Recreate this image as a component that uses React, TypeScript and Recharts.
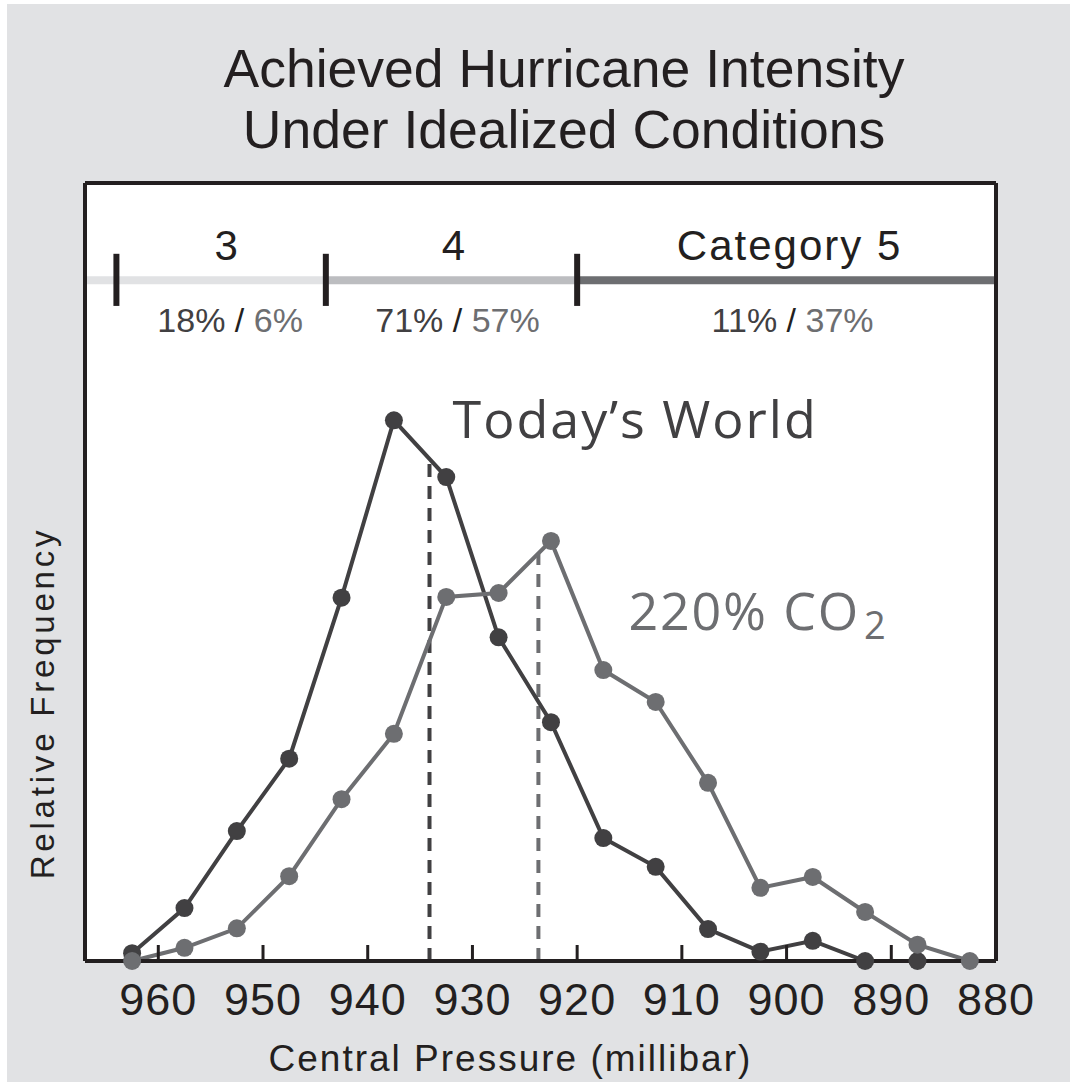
import { LineChart, Line, XAxis, YAxis, CartesianGrid, ReferenceLine, ReferenceDot } from "recharts";

// central pressure bins (mb), values read as relative frequency (plot top = 100)
const pressureBins = [962.5, 957.5, 952.5, 947.5, 942.5, 937.5, 932.5, 927.5, 922.5, 917.5, 912.5, 907.5, 902.5, 897.5, 892.5, 887.5, 882.5];
const todayFreq = [1.0, 6.8, 16.7, 26.0, 46.7, 69.5, 62.2, 41.6, 30.7, 15.8, 12.1, 4.1, 1.2, 2.6, 0, 0, null];
const co2Freq = [0, 1.7, 4.2, 10.9, 20.8, 29.2, 46.8, 47.3, 54.0, 37.4, 33.3, 22.9, 9.4, 10.8, 6.3, 2.1, 0];

// mean pressure of each run and where its dashed marker meets the curve
const todayMean = 934.1;
const todayMeanTop = 64.5;
const co2Mean = 923.7;
const co2MeanTop = 52.4;

const bottomTicks = [960, 950, 940, 930, 920, 910, 900, 890, 880];
const topTicks = [960, 950, 940, 930, 920, 910, 900, 890];

// Saffir-Simpson bands shown in the strip at the top of the plot
const categoryNames = ["3", "4", "Category 5"];
const categoryEdges = [964, 944, 920, 880];
const todayShare = ["18%", "71%", "11%"];
const co2Share = ["6%", "57%", "37%"];
const bandColors = ["#e1e2e4", "#bcbdc0", "#6d6e71"];

const X_MIN = 880;
const X_MAX = 967;
const BAND_Y = 87.5;

const DARK = "#414042";
const GRAY = "#6d6e71";
const INK = "#231f20";
const SANS = "'Liberation Sans', Arial, Helvetica, sans-serif";
const HUMANIST = "'Open Sans', 'Noto Sans', sans-serif";

const todayData = pressureBins.map((p, i) => ({ p, v: todayFreq[i] }));
const co2Data = pressureBins.map((p, i) => ({ p, v: co2Freq[i] }));

function BottomTick(props: any) {
  const { x, y, payload } = props;
  return (
    <g>
      <line x1={x} y1={y} x2={x} y2={y - 16} stroke={INK} strokeWidth={3} />
      <text x={x} y={y + 54} textAnchor="middle" fontSize={45} fill={INK} fontFamily={SANS} letterSpacing={1}>
        {payload.value}
      </text>
    </g>
  );
}

function TopTick(props: any) {
  const { x, y } = props;
  return <line x1={x} y1={y} x2={x} y2={y + 17} stroke={INK} strokeWidth={3} />;
}

const bandLabel = (i: number) => (props: any) => {
  const vb = props.viewBox;
  const cx = vb.x + vb.width / 2 + (i === 0 ? 6 : 3);
  const cy = vb.y + vb.height / 2;
  return (
    <g fontFamily={SANS}>
      <text x={cx} y={cy - 20} textAnchor="middle" fontSize={42} fill={INK} letterSpacing={2}>
        {categoryNames[i]}
      </text>
      <text x={cx + 3} y={cy + 52} textAnchor="middle" fontSize={34}>
        <tspan fill={DARK}>{todayShare[i]}</tspan>
        <tspan fill={INK}> / </tspan>
        <tspan fill={GRAY}>{co2Share[i]}</tspan>
      </text>
    </g>
  );
};

const todayLabel = (props: any) => {
  const vb = props.viewBox;
  return (
    <text x={vb.x} y={vb.y} fontSize={52} fill={DARK} fontFamily={HUMANIST} letterSpacing={2}>
      Today’s World
    </text>
  );
};

const co2Label = (props: any) => {
  const vb = props.viewBox;
  return (
    <text x={vb.x} y={vb.y} fontSize={52} fill={GRAY} fontFamily={HUMANIST} letterSpacing={1.8}>
      <tspan>220% CO</tspan>
      <tspan fontSize={38} dx={4} dy={9}>2</tspan>
    </text>
  );
};

const xTitle = (props: any) => {
  const vb = props.viewBox;
  return (
    <text x={vb.x + vb.width * 0.467} y={vb.y + 110} textAnchor="middle" fontSize={37} fill={INK} fontFamily={SANS} letterSpacing={2}>
      Central Pressure (millibar)
    </text>
  );
};

const yTitle = (props: any) => {
  const vb = props.viewBox;
  const x = vb.x + vb.width - 31;
  const y = vb.y + 520;
  return (
    <text x={x} y={y} transform={`rotate(-90, ${x}, ${y})`} textAnchor="middle" fontSize={33} fill={INK} fontFamily={SANS} letterSpacing={3.8}>
      Relative Frequency
    </text>
  );
};

export default function App() {
  const bandStarts = [X_MAX, categoryEdges[1], categoryEdges[2]];
  const bandEnds = [categoryEdges[1], categoryEdges[2], categoryEdges[3]];
  return (
    <div style={{ position: "absolute", left: 0, top: 0, width: 1070, height: 1082, background: "#fff" }}>
      <div style={{ position: "absolute", left: 7, top: 4, right: 0, bottom: 0, background: "#e1e2e4" }} />
      <div
        style={{
          position: "absolute",
          left: 0,
          top: 38,
          width: 1128,
          textAlign: "center",
          fontFamily: SANS,
          fontSize: 53.5,
          lineHeight: "61px",
          color: INK,
        }}
      >
        <div>Achieved Hurricane Intensity</div>
        <div>Under Idealized Conditions</div>
      </div>
      <div style={{ position: "absolute", left: 0, top: 0 }}>
        <LineChart width={1070} height={1082} margin={{ top: 182, right: 73, bottom: 120, left: 84 }}>
          <CartesianGrid fill="#fff" horizontal={false} vertical={false} stroke="none" />
          <XAxis
            dataKey="p"
            type="number"
            domain={[X_MIN, X_MAX]}
            reversed
            ticks={bottomTicks}
            interval={0}
            height={1}
            tickSize={0}
            tickMargin={0}
            tick={<BottomTick />}
            axisLine={{ stroke: INK, strokeWidth: 4 }}
            label={{ content: xTitle }}
          />
          <XAxis
            xAxisId="top"
            orientation="top"
            dataKey="p"
            type="number"
            domain={[X_MIN, X_MAX]}
            reversed
            ticks={topTicks}
            interval={0}
            height={1}
            tickSize={0}
            tickMargin={0}
            tick={<TopTick />}
            axisLine={{ stroke: INK, strokeWidth: 4 }}
          />
          <YAxis
            type="number"
            domain={[0, 100]}
            width={1}
            tick={false}
            tickLine={false}
            axisLine={{ stroke: INK, strokeWidth: 4 }}
            label={{ content: yTitle }}
          />
          <YAxis
            yAxisId="right"
            orientation="right"
            type="number"
            domain={[0, 100]}
            width={1}
            tick={false}
            tickLine={false}
            axisLine={{ stroke: INK, strokeWidth: 4 }}
          />

          {bandStarts.map((s, i) => (
            <ReferenceLine
              key={`band-${i}`}
              segment={[{ x: s, y: BAND_Y }, { x: bandEnds[i], y: BAND_Y }]}
              stroke={bandColors[i]}
              strokeWidth={8}
            />
          ))}
          {categoryEdges.slice(0, 3).map((e) => (
            <ReferenceLine
              key={`edge-${e}`}
              segment={[{ x: e, y: BAND_Y - 3.3 }, { x: e, y: BAND_Y + 3.4 }]}
              stroke={INK}
              strokeWidth={6}
            />
          ))}
          {categoryNames.map((n, i) => (
            <ReferenceDot
              key={`lab-${n}`}
              x={(categoryEdges[i] + categoryEdges[i + 1]) / 2}
              y={BAND_Y}
              r={0}
              fill="none"
              stroke="none"
              label={{ content: bandLabel(i) }}
            />
          ))}

          <ReferenceLine
            segment={[{ x: todayMean, y: 0 }, { x: todayMean, y: todayMeanTop }]}
            stroke={DARK}
            strokeWidth={4}
            strokeDasharray="13 9"
          />
          <ReferenceLine
            segment={[{ x: co2Mean, y: 0 }, { x: co2Mean, y: co2MeanTop }]}
            stroke={GRAY}
            strokeWidth={4}
            strokeDasharray="13 9"
          />

          <Line
            data={todayData}
            dataKey="v"
            stroke={DARK}
            strokeWidth={4}
            dot={{ r: 9, fill: DARK, stroke: "none", strokeWidth: 0 }}
            activeDot={false}
            isAnimationActive={false}
          />
          <Line
            data={co2Data}
            dataKey="v"
            stroke={GRAY}
            strokeWidth={4}
            dot={{ r: 9, fill: GRAY, stroke: "none", strokeWidth: 0 }}
            activeDot={false}
            isAnimationActive={false}
          />

          <ReferenceDot x={931.9} y={67.2} r={0} fill="none" stroke="none" label={{ content: todayLabel }} />
          <ReferenceDot x={915.1} y={42.5} r={0} fill="none" stroke="none" label={{ content: co2Label }} />
        </LineChart>
      </div>
    </div>
  );
}
